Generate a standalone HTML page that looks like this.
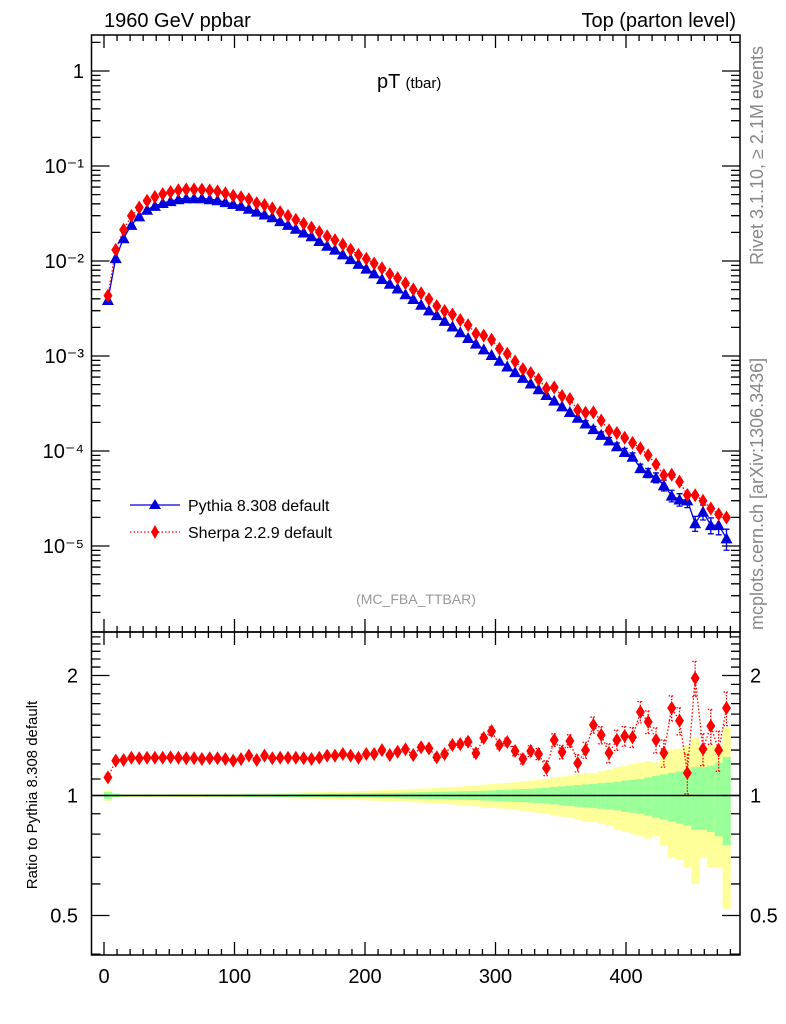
<!DOCTYPE html>
<html><head><meta charset="utf-8"><style>
html,body{margin:0;padding:0;background:#fff}
svg{display:block;font-family:"Liberation Sans",Arial,sans-serif}
</style></head><body>
<svg id="c" width="786" height="1024" viewBox="0 0 786 1024">
<text x="104" y="27" font-size="20">1960 GeV ppbar</text>
<text x="736" y="27" font-size="20" text-anchor="end">Top (parton level)</text>
<text x="377" y="88" font-size="20">pT <tspan font-size="15">(tbar)</tspan></text>
<text x="416" y="604" font-size="14" fill="#999" text-anchor="middle">(MC_FBA_TTBAR)</text>
<text transform="translate(763,265) rotate(-90)" font-size="18" fill="#888">Rivet 3.1.10, ≥ 2.1M events</text>
<text transform="translate(763,630) rotate(-90)" font-size="18" fill="#888">mcplots.cern.ch [arXiv:1306.3436]</text>
<text transform="translate(37,795) rotate(-90)" font-size="15" text-anchor="middle">Ratio to Pythia 8.308 default</text>
<g id="bands"></g><g id="marks"></g><g id="axes"></g>
<g>
<g>
<line x1="130" y1="505" x2="180" y2="505" stroke="#0000dd" stroke-width="1.3"/>
<path d="M155,499 L161,509 L149,509 Z" fill="#0000dd"/>
<text x="188" y="511" font-size="16">Pythia 8.308 default</text></g>
<g>
<line x1="130" y1="532" x2="180" y2="532" stroke="#ff0000" stroke-width="1.3" stroke-dasharray="1.5,2"/>
<path d="M155,525 L159,532 L155,539 L151,532 Z" fill="#ff0000"/>
<text x="188" y="538" font-size="16">Sherpa 2.2.9 default</text></g>
</g>
</svg>
<script>
const binCenters=[3,9,15,21,27,33,39,45,51,57,63,69,75,81,87,93,99,105,111,117,123,129,135,141,147,153,159,165,171,177,183,189,195,201,207,213,219,225,231,237,243,249,255,261,267,273,279,285,291,297,303,309,315,321,327,333,339,345,351,357,363,369,375,381,387,393,399,405,411,417,423,429,435,441,447,453,459,465,471,477];
const pythiaLog10=[-2.41,-1.97,-1.76,-1.62,-1.53,-1.46,-1.42,-1.39,-1.37,-1.35,-1.34,-1.34,-1.34,-1.35,-1.36,-1.38,-1.40,-1.42,-1.45,-1.48,-1.51,-1.54,-1.58,-1.62,-1.66,-1.70,-1.74,-1.79,-1.84,-1.88,-1.93,-1.98,-2.03,-2.08,-2.13,-2.19,-2.24,-2.29,-2.35,-2.40,-2.46,-2.52,-2.57,-2.63,-2.69,-2.75,-2.81,-2.87,-2.93,-2.99,-3.05,-3.11,-3.17,-3.23,-3.29,-3.35,-3.41,-3.47,-3.53,-3.59,-3.65,-3.71,-3.77,-3.83,-3.89,-3.95,-4.01,-4.06,-4.18,-4.23,-4.28,-4.36,-4.47,-4.51,-4.52,-4.76,-4.64,-4.78,-4.78,-4.92];
const sherpaRatio=[1.11,1.223,1.228,1.244,1.240,1.244,1.244,1.244,1.247,1.244,1.240,1.240,1.235,1.240,1.240,1.235,1.223,1.235,1.259,1.228,1.259,1.240,1.244,1.244,1.244,1.240,1.235,1.244,1.259,1.259,1.271,1.259,1.244,1.271,1.271,1.30,1.264,1.288,1.306,1.264,1.321,1.313,1.247,1.271,1.339,1.346,1.364,1.276,1.394,1.45,1.339,1.362,1.293,1.235,1.293,1.271,1.172,1.378,1.286,1.37,1.206,1.30,1.503,1.418,1.278,1.378,1.41,1.40,1.62,1.53,1.378,1.278,1.658,1.54,1.139,1.97,1.308,1.494,1.30,1.658];
const greenErr=[0.02,0.01,0.006,0.006,0.006,0.006,0.006,0.006,0.006,0.006,0.006,0.006,0.006,0.007,0.007,0.007,0.007,0.007,0.008,0.008,0.008,0.008,0.009,0.009,0.009,0.010,0.010,0.010,0.011,0.011,0.012,0.012,0.013,0.013,0.014,0.015,0.015,0.016,0.017,0.018,0.019,0.020,0.021,0.022,0.023,0.024,0.025,0.026,0.028,0.030,0.032,0.034,0.036,0.038,0.040,0.043,0.046,0.050,0.054,0.058,0.062,0.066,0.070,0.074,0.078,0.082,0.090,0.095,0.10,0.11,0.12,0.13,0.14,0.15,0.16,0.18,0.18,0.19,0.21,0.25];
const yellowErr=[0.03,0.015,0.008,0.008,0.008,0.008,0.008,0.008,0.008,0.009,0.009,0.009,0.010,0.010,0.010,0.011,0.011,0.012,0.012,0.013,0.013,0.014,0.015,0.016,0.017,0.018,0.019,0.020,0.021,0.022,0.023,0.024,0.026,0.027,0.029,0.030,0.032,0.034,0.036,0.038,0.040,0.042,0.045,0.048,0.050,0.053,0.056,0.060,0.064,0.068,0.072,0.076,0.080,0.085,0.09,0.095,0.10,0.11,0.115,0.12,0.13,0.14,0.14,0.15,0.16,0.18,0.19,0.20,0.21,0.22,0.21,0.25,0.30,0.31,0.34,0.40,0.30,0.34,0.34,0.48];
const ratioErr=[0.01,0.01,0.008,0.008,0.008,0.008,0.008,0.008,0.008,0.008,0.008,0.008,0.008,0.008,0.01,0.01,0.01,0.01,0.01,0.01,0.01,0.01,0.01,0.01,0.01,0.01,0.01,0.01,0.012,0.012,0.012,0.013,0.013,0.014,0.014,0.015,0.016,0.017,0.018,0.019,0.02,0.021,0.022,0.023,0.024,0.025,0.026,0.028,0.03,0.035,0.03,0.03,0.035,0.035,0.04,0.04,0.05,0.05,0.05,0.05,0.06,0.06,0.07,0.07,0.07,0.08,0.08,0.08,0.1,0.1,0.1,0.1,0.12,0.12,0.13,0.2,0.12,0.15,0.15,0.16];
const xTickLabels=["0","100","200","300","400"];
const yTickLabels=["10⁻⁵","10⁻⁴","10⁻³","10⁻²","10⁻¹","1"];
const ratioTickLabels=["0.5","1","2"];

const NS="http://www.w3.org/2000/svg";
const L=91.5,R=740,T=35,MB=632,B=955;
const X=v=>104+1.305*v;
const Y=lg=>71-95*lg;
const RY=r=>795.5-398.6*Math.log10(r);
function mk(tag,attrs,parent){const e=document.createElementNS(NS,tag);for(const k in attrs)e.setAttribute(k,attrs[k]);parent.appendChild(e);return e;}
const bands=document.getElementById('bands'),marks=document.getElementById('marks'),axes=document.getElementById('axes');

const defs=mk('defs',{},document.getElementById('c'));
const c1=mk('clipPath',{id:'cm'},defs);mk('rect',{x:L,y:T,width:R-L,height:MB-T},c1);
const c2=mk('clipPath',{id:'cr'},defs);mk('rect',{x:L,y:MB,width:R-L,height:B-MB},c2);
bands.setAttribute('clip-path','url(#cr)');

binCenters.forEach((c,i)=>{
  const x0=X(c-3),w=X(c+3)-x0;
  const y=mk('rect',{x:x0,y:RY(1+yellowErr[i]),width:w+0.3,height:RY(Math.max(0.3,1-yellowErr[i]))-RY(1+yellowErr[i]),fill:'#ffff99'},bands);
  
  
  const g=mk('rect',{x:x0,y:RY(1+greenErr[i]),width:w+0.3,height:RY(1-greenErr[i])-RY(1+greenErr[i]),fill:'#99ff99'},bands);
  
  
});
const ref=mk('line',{x1:L,y1:RY(1),x2:R,y2:RY(1),stroke:'#000','stroke-width':1.5},bands);



const gm=mk('g',{'clip-path':'url(#cm)'},marks);
const sherpaLog=pythiaLog10.map((v,i)=>v+Math.log10(sherpaRatio[i]));
const pl=mk('polyline',{points:binCenters.map((c,i)=>X(c)+','+Y(pythiaLog10[i])).join(' '),fill:'none',stroke:'#0000dd','stroke-width':1.3},gm);


const sl=mk('polyline',{points:binCenters.map((c,i)=>X(c)+','+Y(sherpaLog[i])).join(' '),fill:'none',stroke:'#ff0000','stroke-width':1.3,'stroke-dasharray':'1.5,2'},gm);


binCenters.forEach((c,i)=>{
  const x=X(c),y=Y(pythiaLog10[i]);
  const e=greenErr[i]*1.0;
  if(i>60){const ey1=Y(pythiaLog10[i]+Math.log10(1+e)),ey2=Y(pythiaLog10[i]+Math.log10(Math.max(0.2,1-e)));
    mk('path',{d:`M${x},${ey1}V${ey2}M${x-3},${ey1}H${x+3}M${x-3},${ey2}H${x+3}`,stroke:'#0000dd','stroke-width':1.3},gm);}
  const p=mk('path',{d:`M${x},${y-6}L${x+6},${y+5}L${x-6},${y+5}Z`,fill:'#0000dd'},gm);
  
  
});
binCenters.forEach((c,i)=>{
  const x=X(c),y=Y(sherpaLog[i]);
  const p=mk('path',{d:`M${x},${y-7}L${x+4.5},${y}L${x},${y+7}L${x-4.5},${y}Z`,fill:'#ff0000'},gm);
  
  
});

const gr=mk('g',{'clip-path':'url(#cr)'},marks);
const rl=mk('polyline',{points:binCenters.map((c,i)=>X(c)+','+RY(sherpaRatio[i])).join(' '),fill:'none',stroke:'#ff0000','stroke-width':1.3,'stroke-dasharray':'1.5,2'},gr);


binCenters.forEach((c,i)=>{
  const x=X(c),r=sherpaRatio[i],y=RY(r);
  const y1=RY(r+ratioErr[i]),y2=RY(r-ratioErr[i]);
  mk('path',{d:`M${x},${y1}V${y2}M${x-3},${y1}H${x+3}M${x-3},${y2}H${x+3}`,stroke:'#ff0000','stroke-width':1.3,'stroke-dasharray':'1.5,1.5'},gr);
  const p=mk('path',{d:`M${x},${y-7}L${x+4.5},${y}L${x},${y+7}L${x-4.5},${y}Z`,fill:'#ff0000'},gr);
  
  
});

const f1=mk('rect',{x:L,y:T,width:R-L,height:MB-T,fill:'none',stroke:'#000','stroke-width':1.5},axes);


const f2=mk('rect',{x:L,y:MB,width:R-L,height:B-MB,fill:'none',stroke:'#000','stroke-width':1.5},axes);


let d='';
for(let v=0;v<=480;v+=10){const x=X(v),len=(v%100===0)?13:6;
  d+=`M${x},${T}v${len}M${x},${MB}v${-len}M${x},${MB}v${len}M${x},${B}v${-len}`;}
for(let dec=-6;dec<=0;dec++){for(let m=1;m<10;m++){const lg=dec+Math.log10(m),y=Y(lg);if(y<T||y>MB)continue;const len=m===1?18:9;
  d+=`M${L},${y}h${len}M${R},${y}h${-len}`;}}
const rTicks=[0.4,0.5,0.6,0.7,0.8,0.9,1,1.1,1.2,1.3,1.4,1.5,1.6,1.7,1.8,1.9,2,2.1,2.2,2.3,2.4,2.5];
rTicks.forEach(r=>{const y=RY(r);if(y<MB||y>B)return;const len=(r===0.5||r===1||r===2)?18:9;d+=`M${L},${y}h${len}M${R},${y}h${-len}`;});
const tk=mk('path',{d:d,stroke:'#000','stroke-width':1.3,fill:'none'},axes);


xTickLabels.forEach(s=>{const t=mk('text',{x:X(+s),y:983,'font-size':20,'text-anchor':'middle'},axes);t.textContent=s;
  
  });
yTickLabels.forEach((s,i)=>{const lg=i-5;const t=mk('text',{x:84,y:Y(lg)+7,'font-size':20,'text-anchor':'end'},axes);t.textContent=s;
  
  });
ratioTickLabels.forEach(s=>{const y=RY(+s)+7;
  const t=mk('text',{x:78,y:y,'font-size':20,'text-anchor':'end'},axes);t.textContent=s;
  
  
  const t2=mk('text',{x:750,y:y,'font-size':20},axes);t2.textContent=s;
  
  });
</script>
</body></html>
